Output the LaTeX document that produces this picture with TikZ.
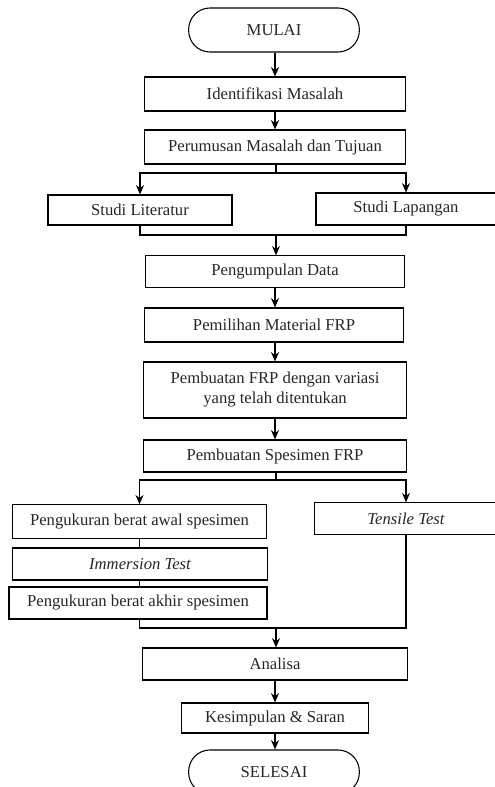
\documentclass[tikz,border=0pt]{standalone}
\usepackage{fontspec}
\setmainfont{Liberation Serif}
\usetikzlibrary{arrows.meta}
\begin{document}
\begin{tikzpicture}[x=0.75pt,y=-0.75pt]
\tikzstyle{every node}+=[font=\fontsize{12.5}{15}\selectfont, text=black!85]
\tikzstyle{box}=[draw, line width=0.8pt, inner sep=0pt, align=center]
\tikzstyle{term}=[box, rounded corners=16pt]
\tikzstyle{arr}=[line width=0.8pt, -{Stealth[length=7pt,width=6pt]}]
\tikzstyle{ln}=[line width=0.8pt]
\useasboundingbox (0,0) rectangle (494,787);
\node [term, minimum width=128pt, minimum height=33pt] (mulai) at (274,30) {MULAI};
\node [box, minimum width=196pt, minimum height=25.5pt] (identifikasi) at (275,94) {Identifikasi Masalah};
\node [box, minimum width=196pt, minimum height=25.5pt] (perumusan) at (275,147) {Perumusan Masalah dan Tujuan};
\node [box, minimum width=138pt, minimum height=22.5pt] (literatur) at (140,210) {Studi Literatur};
\node [box, minimum width=135pt, minimum height=24pt] (lapangan) at (406,209) {Studi Lapangan};
\node [box, minimum width=194pt, minimum height=23.5pt] (pengumpulan) at (275,271.5) {Pengumpulan Data};
\node [box, minimum width=194pt, minimum height=25.5pt] (pemilihan) at (274,325) {Pemilihan Material FRP};
\node [box, minimum width=197pt, minimum height=42pt] (pembuatan) at (275,390) {Pembuatan FRP dengan variasi\\yang telah ditentukan};
\node [box, minimum width=197pt, minimum height=24pt] (spesimen) at (275,456) {Pembuatan Spesimen FRP};
\node [box, minimum width=191pt, minimum height=25pt] (awal) at (139.5,521.5) {Pengukuran berat awal spesimen};
\node [box, minimum width=137pt, minimum height=23.5pt] (tensile) at (406,518.5) {\itshape Tensile Test};
\node [box, minimum width=191pt, minimum height=24pt] (immersion) at (140,564) {\itshape Immersion Test};
\node [box, minimum width=193.5pt, minimum height=24pt] (akhir) at (138,603) {Pengukuran berat akhir spesimen};
\node [box, minimum width=199pt, minimum height=24pt] (analisa) at (275,664) {Analisa};
\node [box, minimum width=140pt, minimum height=22.5pt] (kesimpulan) at (275,718) {Kesimpulan \& Saran};
\node [term, minimum width=128pt, minimum height=33pt] (selesai) at (274,772) {SELESAI};
\coordinate (split1) at (276,173);
\coordinate (join1) at (276,235);
\coordinate (split2) at (276,480);
\coordinate (join2) at (276,628);
\draw [arr] (mulai.south -| identifikasi) -- (identifikasi.north);
\draw [arr] (identifikasi) -- (perumusan);
\draw [ln] (perumusan.south -| split1) -- (split1);
\draw [arr] (split1) -| (literatur.north);
\draw [arr] (split1) -| (lapangan.north);
\draw [ln] (literatur.south) |- (join1) -| (lapangan.south);
\draw [arr] (join1) -- (pengumpulan.north -| join1);
\draw [arr] (pengumpulan) -- (pemilihan.north -| pengumpulan);
\draw [arr] (pemilihan.south -| pembuatan) -- (pembuatan.north);
\draw [arr] (pembuatan) -- (spesimen);
\draw [ln] (spesimen.south -| split2) -- (split2);
\draw [arr] (split2) -| (awal.north);
\draw [arr] (split2) -| (tensile.north);
\draw [ln] (awal.south) -- (immersion.north -| awal);
\draw [ln] (immersion.south -| awal) -- (akhir.north -| awal);
\draw [ln] (akhir.south -| awal) |- (join2) -| (tensile.south);
\draw [arr] (join2) -- (analisa.north -| join2);
\draw [arr] (analisa) -- (kesimpulan);
\draw [arr] (kesimpulan) -- (selesai.north -| kesimpulan);
\end{tikzpicture}
\end{document}
